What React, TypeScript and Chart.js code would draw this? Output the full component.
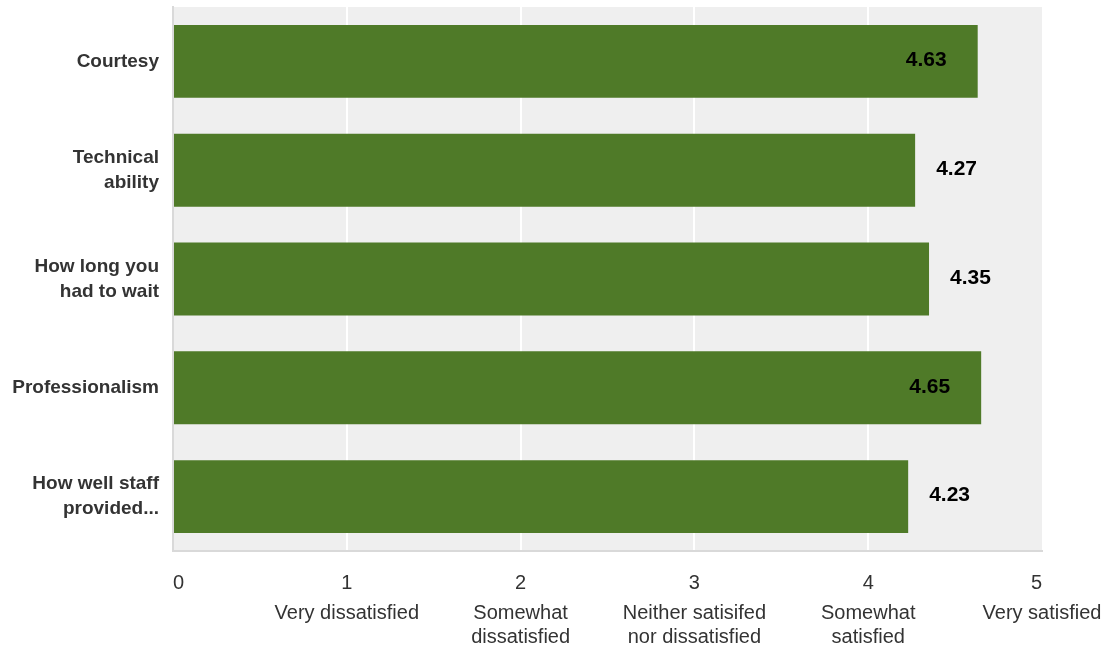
import React, { useEffect, useRef } from "react";
import { Chart, registerables } from "chart.js";

Chart.register(...registerables);

const categories: (string | string[])[] = [
  "Courtesy",
  ["Technical", "ability"],
  ["How long you", "had to wait"],
  "Professionalism",
  ["How well staff", "provided..."],
];
const scores = [4.63, 4.27, 4.35, 4.65, 4.23];
const scaleDescriptions: (string | string[])[] = [
  "",
  "Very dissatisfied",
  ["Somewhat", "dissatisfied"],
  ["Neither satisifed", "nor dissatisfied"],
  ["Somewhat", "satisfied"],
  "Very satisfied",
];

const FONT = "'Liberation Sans', Arial, Helvetica, sans-serif";

const bgPlugin = {
  id: "plotBg",
  beforeDraw(chart: any) {
    const { ctx, chartArea } = chart;
    ctx.save();
    ctx.fillStyle = "#efefef";
    ctx.fillRect(chartArea.left, chartArea.top, chartArea.right - chartArea.left, chartArea.bottom - chartArea.top);
    ctx.restore();
  },
};

const valuePlugin = {
  id: "valueLabels",
  afterDatasetsDraw(chart: any) {
    const { ctx } = chart;
    const meta = chart.getDatasetMeta(0);
    ctx.save();
    ctx.font = `bold 21px ${FONT}`;
    ctx.fillStyle = "#000";
    ctx.textBaseline = "middle";
    meta.data.forEach((bar: any, i: number) => {
      const v = scores[i];
      const txt = v.toFixed(2);
      if (v >= 4.5) {
        ctx.textAlign = "right";
        ctx.fillText(txt, bar.x - 31, bar.y - 1);
      } else {
        ctx.textAlign = "left";
        ctx.fillText(txt, bar.x + 21, bar.y - 1);
      }
    });
    ctx.restore();
  },
};

export default function App() {
  const ref = useRef<HTMLCanvasElement>(null);
  useEffect(() => {
    document.body.style.margin = "0";
    const chart = new Chart(ref.current!, {
      type: "bar",
      data: {
        labels: categories,
        datasets: [
          {
            data: scores,
            backgroundColor: "#4f7a28",
            borderWidth: 0,
            barPercentage: 0.67,
            categoryPercentage: 1,
          },
        ],
      },
      options: {
        indexAxis: "y",
        animation: false,
        responsive: false,
        layout: { padding: { left: 0, top: 7, right: 71, bottom: 0 } },
        plugins: { legend: { display: false }, tooltip: { enabled: false } },
        scales: {
          y: {
            position: "left",
            grid: { display: false, drawTicks: false },
            border: { display: true, color: "#d9d9d9", width: 2 },
            ticks: {
              padding: 14,
              color: "#333",
              font: { family: FONT, size: 19, weight: "bold", lineHeight: 1.32 },
            },
            afterFit: (s: any) => {
              s.width = 173;
              s.paddingTop = 0;
              s.paddingBottom = 0;
            },
          },
          x: {
            position: "bottom",
            weight: 0,
            min: 0,
            max: 5,
            grid: {
              color: (c: any) => (c.tick && c.tick.value === 5 ? "rgba(0,0,0,0)" : "#ffffff"),
              lineWidth: 2,
              drawTicks: false,
            },
            border: { display: true, color: "#d9d9d9", width: 2 },
            ticks: {
              stepSize: 1,
              align: "inner",
              padding: 20,
              color: "#333",
              maxRotation: 0,
              font: { family: FONT, size: 20, lineHeight: 1.2 },
            },
            afterFit: (s: any) => {
              s.height = 50;
              s.paddingLeft = 0;
              s.paddingRight = 0;
            },
          },
          x2: {
            type: "linear",
            axis: "x",
            position: "bottom",
            weight: 1,
            min: 0,
            max: 5,
            grid: { display: false, drawTicks: false },
            border: { display: false },
            ticks: {
              stepSize: 1,
              padding: 0,
              autoSkip: false,
              maxRotation: 0,
              color: "#333",
              font: { family: FONT, size: 20, lineHeight: 1.2 },
              callback: (v: any) => scaleDescriptions[Math.round(Number(v))] ?? "",
            },
            afterFit: (s: any) => {
              s.height = 48;
              s.paddingLeft = 0;
              s.paddingRight = 0;
            },
          },
        },
      } as any,
      plugins: [bgPlugin, valuePlugin],
    });
    return () => chart.destroy();
  }, []);
  return (
    <div style={{ position: "absolute", left: 0, top: 0, width: 1113, height: 649 }}>
      <canvas ref={ref} width={1113} height={649} />
    </div>
  );
}
